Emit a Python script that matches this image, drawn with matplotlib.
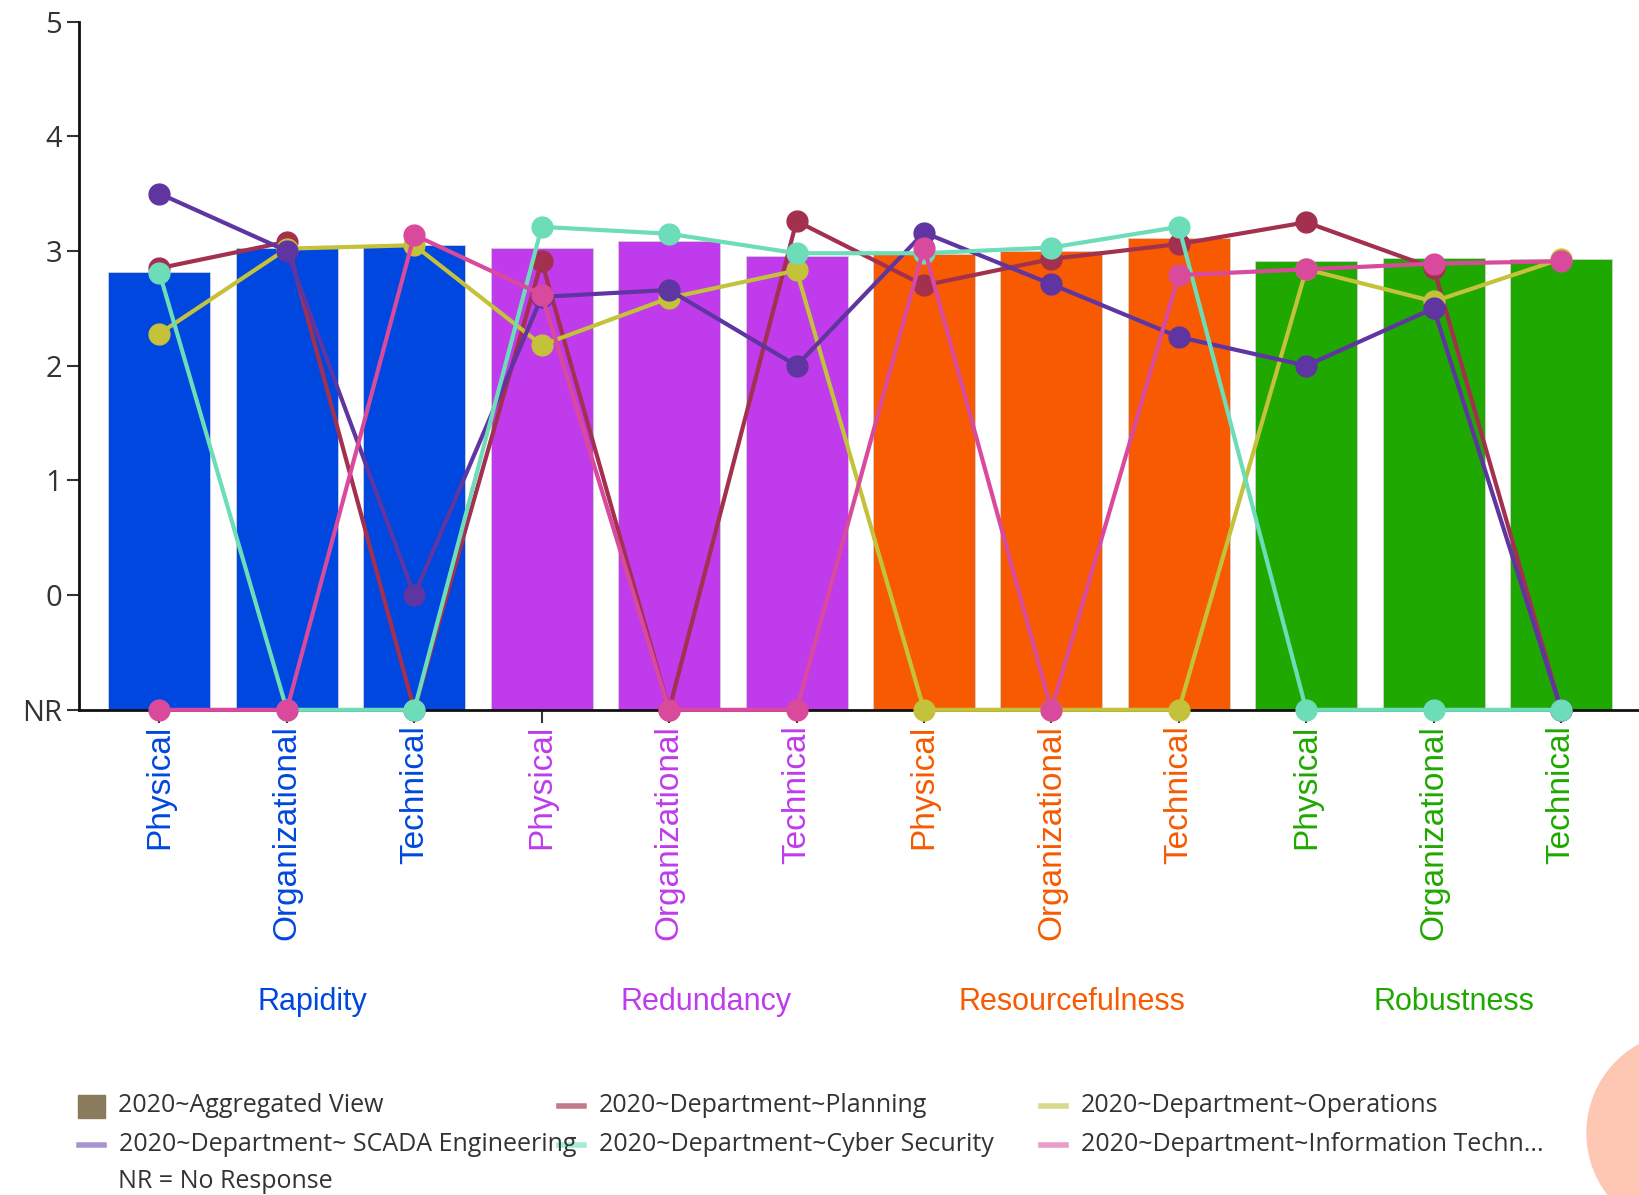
import numpy as np
import matplotlib
matplotlib.use("Agg")
import matplotlib.pyplot as plt
from matplotlib.lines import Line2D
from matplotlib.patches import Rectangle, Circle

plt.rcParams['font.family'] = ['Open Sans', 'DejaVu Sans']
ARIAL = ['Liberation Sans', 'DejaVu Sans']

NR = -1  # "No Response" sits one step below zero

groups = ['Rapidity', 'Redundancy', 'Resourcefulness', 'Robustness']
group_colors = ['#0047DF', '#BF3BEB', '#F75A00', '#1FA800']
subcats = ['Physical', 'Organizational', 'Technical']

# aggregated view (bars), 3 per group
aggregated = [2.82, 3.03, 3.05,
              3.03, 3.09, 2.96,
              2.97, 3.00, 3.11,
              2.91, 2.94, 2.93]

planning = [2.85, 3.08, NR, 2.91, NR, 3.26, 2.70, 2.93, 3.06, 3.25, 2.85, NR]
operations = [2.28, 3.02, 3.05, 2.18, 2.59, 2.83, NR, NR, NR, 2.84, 2.56, 2.93]
scada = [3.50, 3.00, 0.00, 2.60, 2.66, 2.00, 3.16, 2.71, 2.25, 2.00, 2.50, NR]
cyber = [2.81, NR, NR, 3.21, 3.15, 2.98, 2.98, 3.03, 3.21, NR, NR, NR]
info_tech = [NR, NR, 3.14, 2.62, NR, NR, 3.03, NR, 2.79, 2.84, 2.89, 2.91]

series = [
    ('2020~Department~Planning', planning, '#A3304F', '#C27A8B'),
    ('2020~Department~Operations', operations, '#C4C13A', '#DADA8E'),
    ('2020~Department~ SCADA Engineering', scada, '#5E35A1', '#A994D2'),
    ('2020~Department~Cyber Security', cyber, '#6DDDB9', '#A3ECD5'),
    ('2020~Department~Information Techn...', info_tech, '#DA4A9C', '#EA9DC9'),
]

ytick_vals = [NR, 0, 1, 2, 3, 4, 5]
ytick_labels = ['NR', '0', '1', '2', '3', '4', '5']

x = np.arange(len(aggregated))
bar_colors = [c for c in group_colors for _ in subcats]
labels = subcats * len(groups)

fig = plt.figure(figsize=(16.39, 11.95), dpi=100)
ax = fig.add_axes([0.0479, 0.406, 0.952, 0.576])

ax.bar(x, np.array(aggregated) - NR, bottom=NR, width=0.8, color=bar_colors,
       edgecolor='#d0d0d0', linewidth=0.6, zorder=1)

for name, vals, col, _ in series:
    ax.plot(x, vals, color=col, linewidth=3, marker='o', markersize=15,
            zorder=3, clip_on=False)

ax.set_xlim(-0.635, 11.61)
ax.set_ylim(NR, 5)
ax.set_yticks(ytick_vals)
ax.set_yticklabels(ytick_labels, fontsize=21, color='#333333')
ax.set_xticks(x)
ax.set_xticklabels(labels, rotation=90, fontsize=24, va='top', family=ARIAL)
for lbl, col in zip(ax.get_xticklabels(), bar_colors):
    lbl.set_color(col)
ax.tick_params(axis='y', length=9, width=1.5, color='#333333', pad=3)
ax.tick_params(axis='x', length=9, width=1.5, color='#333333', pad=2)

for side in ['top', 'right']:
    ax.spines[side].set_visible(False)
for side in ['left', 'bottom']:
    ax.spines[side].set_linewidth(2)
    ax.spines[side].set_color('#111111')
    ax.spines[side].set_zorder(2)

# group titles under the category labels
group_x = [1.2, 4.29, 7.16, 10.16]
for gx, g, c in zip(group_x, groups, group_colors):
    ax.text(gx, -3.55, g, color=c, fontsize=22, ha='center', va='center',
            family=ARIAL, clip_on=False)

# legend built by hand, three columns
leg_fs = 18
fig.add_artist(Rectangle((0.0476, 0.0645), 0.0165, 0.0195,
                         transform=fig.transFigure, color='#8B7B5E'))
fig.text(0.072, 0.0745, '2020~Aggregated View', fontsize=leg_fs,
         color='#333333', va='center')

slots = [(0.341, 0.0745), (0.635, 0.0745),
         (0.048, 0.042), (0.341, 0.042), (0.635, 0.042)]
for (name, _, _, lcol), (sx, sy) in zip(series, slots):
    fig.add_artist(Line2D([sx, sx + 0.0155], [sy, sy], color=lcol,
                          linewidth=4, transform=fig.transFigure))
    fig.text(sx + 0.0245, sy, name, fontsize=leg_fs, color='#333333',
             va='center')

fig.text(0.072, 0.011, 'NR = No Response', fontsize=leg_fs, color='#333333',
         va='center')

# round badge in the lower right corner
fig.add_artist(Circle((1688, 1195 - 1133), 101, transform=None,
                      color='#FDC7B3', zorder=5))

fig.savefig('out.png', dpi=100)
